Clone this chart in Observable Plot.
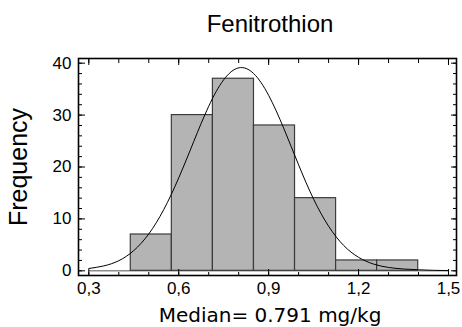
<!DOCTYPE html>
<html>
<head>
<meta charset="utf-8">
<script src="https://cdn.jsdelivr.net/npm/d3@7"></script>
<script src="https://cdn.jsdelivr.net/npm/@observablehq/plot@0.6"></script>
<style>
  html, body { margin: 0; padding: 0; background: #fff; }
  #wrap { width: 462px; height: 327px; overflow: hidden; font-family: "Liberation Sans", Arial, sans-serif; }
  #title { box-sizing: border-box; height: 40px; padding: 10px 6px 0 84px; line-height: 27px; font-size: 24px; text-align: center; color: #000; }
  #xlabel { box-sizing: border-box; height: 24px; padding: 0 6px 0 84px; line-height: 24px; font-size: 20px; text-align: center; font-family: "DejaVu Sans", sans-serif; color: #000; }
  svg { display: block; }
</style>
</head>
<body>
<div id="wrap">
  <div id="title"></div>
  <div id="chart"></div>
  <div id="xlabel"></div>
</div>
<script>
const titleText = "Fenitrothion";
const xLabelText = "Median= 0.791 mg/kg";
const yLabelText = "Frequency";

// histogram bins (edges) and counts
const binEdges = [0.44, 0.577, 0.714, 0.851, 0.988, 1.125, 1.262, 1.399];
const counts = [7, 30, 37, 28, 14, 2, 2];

// fitted curve
const curveX = [0.30, 0.35, 0.40, 0.45, 0.50, 0.55, 0.60, 0.65, 0.70, 0.75, 0.80, 0.85, 0.90, 0.95, 1.00, 1.05, 1.10, 1.15, 1.20, 1.25, 1.30, 1.35, 1.40, 1.45, 1.50];
const curveY = [0.45, 0.95, 1.95, 3.9, 7.1, 11.8, 17.9, 24.9, 31.7, 36.8, 39.1, 38.0, 33.8, 27.5, 20.4, 13.8, 8.6, 4.9, 2.6, 1.3, 0.65, 0.35, 0.2, 0.1, 0.05];

// ticks
const xTicks = [0.3, 0.6, 0.9, 1.2, 1.5];
const xMinorTicks = [0.3, 0.4, 0.5, 0.6, 0.7, 0.8, 0.9, 1.0, 1.1, 1.2, 1.3, 1.4, 1.5];
const yTicks = [0, 10, 20, 30, 40];
const yMinorTicks = [0, 2, 4, 6, 8, 10, 12, 14, 16, 18, 20, 22, 24, 26, 28, 30, 32, 34, 36, 38, 40];

const xDomain = [0.2656, 1.5267];
const yDomain = [-0.9, 40.9];

const bins = counts.map((c, i) => ({x1: binEdges[i], x2: binEdges[i + 1], count: c}));
const curve = curveX.map((x, i) => ({x, y: curveY[i]}));
const fmt = d => d.toFixed(1).replace(".", ",");

document.getElementById("title").textContent = titleText;
document.getElementById("xlabel").textContent = xLabelText;

const plot = Plot.plot({
  width: 462,
  height: 263,
  marginTop: 18,
  marginBottom: 28,
  marginLeft: 78,
  marginRight: 6,
  style: {fontFamily: "Liberation Sans, Arial, sans-serif", fontSize: "17px", color: "#000", background: "#fff"},
  x: {domain: xDomain},
  y: {domain: yDomain},
  marks: [
    Plot.ruleY([0], {x1: curveX[0], x2: curveX[curveX.length - 1], stroke: "#8c8c8c", strokeWidth: 1.5}),
    Plot.rectY(bins, {x1: "x1", x2: "x2", y: "count", fill: "#b4b4b4", stroke: "#3c3c3c", strokeWidth: 1.2}),
    Plot.line(curve, {x: "x", y: "y", curve: "natural", stroke: "#000", strokeWidth: 1}),
    // ticks (inward)
    Plot.axisX(xMinorTicks, {anchor: "bottom", tickSize: -3, fill: "none", label: null}),
    Plot.axisX(xTicks, {anchor: "bottom", tickSize: -6, fill: "none", label: null}),
    Plot.axisX(xMinorTicks, {anchor: "top", tickSize: -4, fill: "none", label: null}),
    Plot.axisX(xTicks, {anchor: "top", tickSize: -6, fill: "none", label: null}),
    Plot.axisY(yMinorTicks, {anchor: "left", tickSize: -4, fill: "none", label: null}),
    Plot.axisY(yTicks, {anchor: "left", tickSize: -7, fill: "none", label: null}),
    Plot.axisY(yMinorTicks, {anchor: "right", tickSize: -4, fill: "none", label: null}),
    Plot.axisY(yTicks, {anchor: "right", tickSize: -6, fill: "none", label: null}),
    // tick labels
    Plot.axisX(xTicks, {anchor: "bottom", tickSize: 0, tickPadding: 6, tickFormat: fmt, fontSize: 17, label: null}),
    Plot.axisY(yTicks, {anchor: "left", tickSize: 0, tickPadding: 7, fontSize: 17, label: null}),
    Plot.text([yLabelText], {text: d => d, frameAnchor: "left", textAnchor: "middle", rotate: -90, dx: -52, lineAnchor: "bottom", fontSize: 25}),
    Plot.frame({stroke: "#000", strokeWidth: 1.6})
  ]
});
document.getElementById("chart").appendChild(plot);
</script>
</body>
</html>
